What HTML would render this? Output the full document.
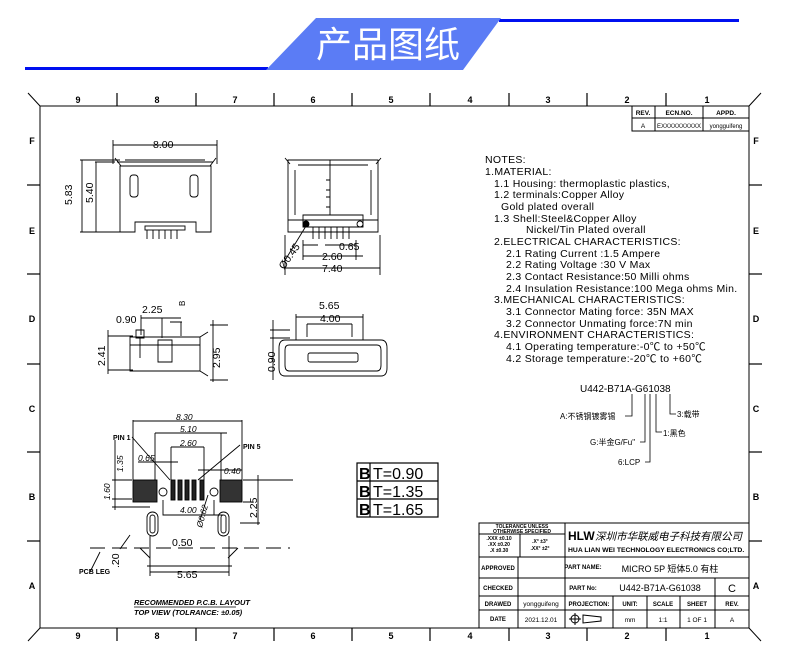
<!DOCTYPE html>
<html><head><meta charset="utf-8"><style>
html,body{margin:0;padding:0;background:#fff;}
svg{display:block;}
text{font-family:"Liberation Sans","Noto Sans CJK SC",sans-serif;fill:#000;}
</style></head><body>
<svg width="790" height="663" viewBox="0 0 790 663" xmlns="http://www.w3.org/2000/svg">
<!-- header -->
<rect x="25" y="67" width="243" height="3" fill="#0010f0"/>
<rect x="499" y="19" width="240" height="3" fill="#0010f0"/>
<polygon points="266,70 316,18 501,18 463,70" fill="#5b7cf5"/>
<text x="388" y="57" font-size="36" text-anchor="middle" style="fill:#fff" font-family="Noto Sans CJK SC,sans-serif">产品图纸</text>

<!-- frame -->
<g stroke="#000" fill="none" stroke-width="1">
<rect x="40" y="106" width="709" height="522"/>
<line x1="28" y1="93" x2="40" y2="106"/><line x1="761" y1="93" x2="749" y2="106"/>
<line x1="28" y1="641" x2="40" y2="628"/><line x1="761" y1="641" x2="749" y2="628"/>
<g stroke-width="1.2">
<line x1="117" y1="93" x2="117" y2="106"/><line x1="196" y1="93" x2="196" y2="106"/><line x1="274" y1="93" x2="274" y2="106"/><line x1="352" y1="93" x2="352" y2="106"/><line x1="430" y1="93" x2="430" y2="106"/><line x1="509" y1="93" x2="509" y2="106"/><line x1="587" y1="93" x2="587" y2="106"/><line x1="666" y1="93" x2="666" y2="106"/>
<line x1="117" y1="628" x2="117" y2="641"/><line x1="196" y1="628" x2="196" y2="641"/><line x1="274" y1="628" x2="274" y2="641"/><line x1="352" y1="628" x2="352" y2="641"/><line x1="430" y1="628" x2="430" y2="641"/><line x1="509" y1="628" x2="509" y2="641"/><line x1="587" y1="628" x2="587" y2="641"/><line x1="666" y1="628" x2="666" y2="641"/>
<line x1="27" y1="185" x2="40" y2="185"/><line x1="27" y1="274" x2="40" y2="274"/><line x1="27" y1="364" x2="40" y2="364"/><line x1="27" y1="452" x2="40" y2="452"/><line x1="27" y1="541" x2="40" y2="541"/>
<line x1="749" y1="185" x2="762" y2="185"/><line x1="749" y1="274" x2="762" y2="274"/><line x1="749" y1="364" x2="762" y2="364"/><line x1="749" y1="452" x2="762" y2="452"/><line x1="749" y1="541" x2="762" y2="541"/>
</g>
</g>
<g font-size="9" font-weight="bold" text-anchor="middle">
<text x="78" y="103">9</text><text x="157" y="103">8</text><text x="235" y="103">7</text><text x="313" y="103">6</text><text x="391" y="103">5</text><text x="470" y="103">4</text><text x="548" y="103">3</text><text x="627" y="103">2</text><text x="707" y="103">1</text>
<text x="78" y="639">9</text><text x="157" y="639">8</text><text x="235" y="639">7</text><text x="313" y="639">6</text><text x="391" y="639">5</text><text x="470" y="639">4</text><text x="548" y="639">3</text><text x="627" y="639">2</text><text x="707" y="639">1</text>
<text x="32" y="144">F</text><text x="32" y="234">E</text><text x="32" y="322">D</text><text x="32" y="412">C</text><text x="32" y="500">B</text><text x="32" y="589">A</text>
<text x="756" y="144">F</text><text x="756" y="234">E</text><text x="756" y="322">D</text><text x="756" y="412">C</text><text x="756" y="500">B</text><text x="756" y="589">A</text>
</g>

<!-- rev table -->
<g stroke="#000" fill="none"><rect x="632" y="106" width="117" height="25"/><line x1="632" y1="118" x2="749" y2="118"/><line x1="655" y1="106" x2="655" y2="131"/><line x1="703" y1="106" x2="703" y2="131"/></g>
<g font-size="6.5" text-anchor="middle"><text x="643" y="115" font-weight="bold">REV.</text><text x="679" y="115" font-weight="bold">ECN.NO.</text><text x="726" y="115" font-weight="bold">APPD.</text><text x="643" y="128">A</text><text x="679" y="128" font-size="6">EXXXXXXXXXX</text><text x="726" y="128" font-size="6">yongguifeng</text></g>

<!-- notes -->
<g font-size="10.5" letter-spacing="0.3">
<text x="485" y="163">NOTES:</text>
<text x="485" y="175">1.MATERIAL:</text>
<text x="494" y="187">1.1  Housing:  thermoplastic  plastics,</text>
<text x="494" y="198">1.2  terminals:Copper  Alloy</text>
<text x="501" y="210">Gold  plated  overall</text>
<text x="494" y="222">1.3  Shell:Steel&amp;Copper  Alloy</text>
<text x="526" y="233">Nickel/Tin  Plated  overall</text>
<text x="494" y="245">2.ELECTRICAL  CHARACTERISTICS:</text>
<text x="506" y="257">2.1  Rating  Current  :1.5  Ampere</text>
<text x="506" y="268">2.2  Rating  Voltage  :30  V  Max</text>
<text x="506" y="280">2.3  Contact  Resistance:50  Milli  ohms</text>
<text x="506" y="292">2.4  Insulation  Resistance:100  Mega  ohms  Min.</text>
<text x="494" y="303">3.MECHANICAL  CHARACTERISTICS:</text>
<text x="506" y="315">3.1  Connector  Mating  force:  35N  MAX</text>
<text x="506" y="327">3.2  Connector  Unmating  force:7N  min</text>
<text x="494" y="338">4.ENVIRONMENT  CHARACTERISTICS:</text>
<text x="506" y="350">4.1  Operating  temperature:-0℃  to  +50℃</text>
<text x="506" y="362">4.2  Storage  temperature:-20℃  to  +60℃</text>
</g>

<!-- part number -->
<text x="580" y="392" font-size="10">U442-B71A-G61038</text>
<g stroke="#000" fill="none" stroke-width="0.8">
<polyline points="632,394 632,416 625,416"/>
<polyline points="645,394 645,442 640,442"/>
<polyline points="650,394 650,462 645,462"/>
<polyline points="656,394 656,432 662,432"/>
<polyline points="670,394 670,414 676,414"/>
</g>
<g font-size="8" font-family="Noto Sans CJK SC,sans-serif">
<text x="560" y="419">A:不锈钢镀雾锡</text>
<text x="590" y="445">G:半金G/Fu"</text>
<text x="618" y="465">6:LCP</text>
<text x="663" y="436">1:黑色</text>
<text x="677" y="417">3:载带</text>
</g>

<!-- views -->
<g stroke="#000" fill="none" stroke-width="0.9">
<path d="M117,162 L213,162 M120,166 L211,166 L211,232 L196,232 L196,222 L135,222 L135,232 L120,232 Z"/>
<path d="M115,158 L121,166 M216,158 L210,166 M125,160 L205,160"/>
<rect x="130" y="175" width="8" height="22" rx="3"/><rect x="190" y="175" width="8" height="22" rx="3"/>
<rect x="145" y="226" width="40" height="4"/>
<path d="M147,230v9M153,230v9M159,230v9M165,230v9M171,230v9M177,230v9"/>
<path d="M113,140v24M217,140v24M113,145h104"/>
<path d="M80,160h40M80,232h40M95,162h20M95,232h20M82,160v72M96,162v70"/>
<path d="M288,160 L378,160 L378,232 L288,232 Z M298,165 h70 M295,170v45 M371,170v45 M288,220h90 M303,215 h60 v12 h-60 z"/>
<path d="M285,158l5,6M381,158l-5,6M330,160v55M326,180h4v10h-4M326,197h4v10h-4"/>
<circle cx="306" cy="224" r="3" fill="#000"/><circle cx="360" cy="224" r="3"/>
<path d="M313,227v12M319,227v12M325,227v12M331,227v12M337,227v12M343,227v12M349,227v12"/>
<path d="M285,235v40M380,235v40M285,268h95M303,256h60M303,245h15M325,245h30M303,240v20M356,240v20"/>
<path d="M284,262l22,-36"/>
<path d="M130,337 h70 v34 h-70 z M130,345 h70 M158,340 h14 v22 h-14 z M140,338 v20 M136,330 h8 v8 h-8 z M200,337 l8,-5 M200,371 l8,5"/>
<path d="M108,336 h25 M108,370 h25 M108,330 v44 M210,325 h18 M210,380 h18 M213,320 v62 M141,315v20 M141,318h40 M162,318v20 M170,322h12 M181,322v14"/>
<path d="M285,340 h96 q6,0 6,8 v20 q0,8 -6,8 h-96 q-6,0 -6,-8 v-20 q0,-8 6,-8 z"/>
<path d="M289,345 h88 q4,0 4,5 v15 q0,6 -4,6 h-88 q-4,0 -4,-6 v-15 q0,-5 4,-5 z"/>
<rect x="308" y="353" width="50" height="9" rx="2"/>
<path d="M296,314v26M363,314v26M296,317h67M307,324h45M307,324v13M352,324v13"/>
<path d="M270,330h20M270,338h20M273,320v60"/>
<rect x="133" y="480" width="24" height="22" fill="#333"/><rect x="220" y="480" width="22" height="22" fill="#333"/>
<rect x="171" y="480" width="4" height="20" fill="#222"/><rect x="178" y="480" width="4" height="20" fill="#222"/><rect x="185" y="480" width="4" height="20" fill="#222"/><rect x="192" y="480" width="4" height="20" fill="#222"/><rect x="200" y="480" width="4" height="20" fill="#222"/>
<circle cx="163" cy="492" r="4"/><circle cx="214" cy="492" r="4"/>
<rect x="147" y="512" width="11" height="24" rx="5.5"/><rect x="218" y="512" width="11" height="24" rx="5.5"/>
<rect x="150" y="515" width="5" height="18" rx="2.5"/><rect x="221" y="515" width="5" height="18" rx="2.5"/>
<path d="M133,420v60M242,420v60M133,421h109M155,433h72M155,433v47M221,433v47M171,447h33M171,447v33M204,447v33M138,462h40M198,470h44" />
<path d="M112,480h20M112,499h20M112,507h38M115,440v70M243,480h50M243,502h10M258,475v50M240,523h20"/>
<path d="M163,500v15h60M214,500v15"/>
<path d="M170,480l-38,-43M198,480l42,-35M208,495l-8,25"/>
<path d="M90,548h200" stroke-dasharray="15,7"/>
<path d="M150,536v40M229,536v40M150,572h79M140,548l10,10 M238,548l-10,10M147,566h85"/>
<path d="M130,535l-10,14M100,552l-10,20"/>
</g>
<g font-size="10.5">
<text x="153" y="148">8.00</text>
<text x="72" y="205" transform="rotate(-90 72 205)">5.83</text>
<text x="93" y="203" transform="rotate(-90 93 203)">5.40</text>
<text x="339" y="250">0.65</text>
<text x="322" y="260">2.60</text>
<text x="322" y="272">7.40</text>
<text x="284" y="270" transform="rotate(-55 284 270)">Ø0.45</text>
<text x="142" y="313">2.25</text>
<text x="116" y="323">0.90</text>
<text x="185" y="306" font-size="8" transform="rotate(-90 185 306)">B</text>
<text x="105" y="366" transform="rotate(-90 105 366)">2.41</text>
<text x="220" y="368" transform="rotate(-90 220 368)">2.95</text>
<text x="319" y="309">5.65</text>
<text x="320" y="322">4.00</text>
<text x="275" y="372" transform="rotate(-90 275 372)">0.90</text>
</g>
<g font-size="8.5" font-style="italic">
<text x="176" y="420">8.30</text><text x="180" y="432">5.10</text><text x="180" y="446">2.60</text>
<text x="138" y="461">0.65</text><text x="224" y="474">0.40</text>
<text x="180" y="513">4.00</text>
<text x="202" y="528" transform="rotate(-75 202 528)">Ø0.62</text>
<text x="123" y="472" transform="rotate(-90 123 472)">1.35</text>
<text x="110" y="500" transform="rotate(-90 110 500)">1.60</text>
</g>
<g font-size="10.5">
<text x="257" y="518" transform="rotate(-90 257 518)">2.25</text>
<text x="172" y="546">0.50</text>
<text x="177" y="578">5.65</text>
<text x="119" y="568" transform="rotate(-90 119 568)">.20</text>
</g>
<g font-size="7" font-weight="bold">
<text x="113" y="440">PIN 1</text><text x="243" y="449">PIN 5</text><text x="79" y="574">PCB LEG</text>
</g>
<g font-size="7.5" font-style="italic" font-weight="bold">
<text x="134" y="605">RECOMMENDED P.C.B. LAYOUT</text>
<text x="134" y="615">TOP VIEW (TOLRANCE: ±0.05)</text>
</g>
<line x1="134" y1="607" x2="236" y2="607" stroke="#000" stroke-width="0.8"/>

<!-- B table -->
<g stroke="#000" fill="none" stroke-width="1.2"><rect x="357" y="463" width="81" height="54"/><line x1="357" y1="481" x2="438" y2="481"/><line x1="357" y1="499" x2="438" y2="499"/><line x1="370" y1="463" x2="370" y2="517"/></g>
<g font-size="16"><text x="359" y="479" font-family="Liberation Serif,serif" font-weight="bold">B</text><text x="359" y="497" font-family="Liberation Serif,serif" font-weight="bold">B</text><text x="359" y="515" font-family="Liberation Serif,serif" font-weight="bold">B</text>
<text x="373" y="479">T=0.90</text><text x="373" y="497">T=1.35</text><text x="373" y="515">T=1.65</text></g>

<!-- title block -->
<g stroke="#000" fill="none" stroke-width="1">
<rect x="479" y="523" width="270" height="105"/>
<line x1="479" y1="557" x2="749" y2="557"/><line x1="479" y1="578" x2="749" y2="578"/><line x1="479" y1="596" x2="749" y2="596"/><line x1="479" y1="610" x2="749" y2="610"/>
<line x1="565" y1="523" x2="565" y2="628"/><line x1="518" y1="557" x2="518" y2="628"/>
<line x1="479" y1="534" x2="565" y2="534"/><line x1="520" y1="534" x2="520" y2="557"/>
<line x1="613" y1="596" x2="613" y2="628"/><line x1="647" y1="596" x2="647" y2="628"/><line x1="680" y1="596" x2="680" y2="628"/><line x1="715" y1="578" x2="715" y2="628"/>
</g>
<g font-size="6" font-weight="bold" text-anchor="middle">
<text x="522" y="528" font-size="5">TOLERANCE UNLESS</text><text x="522" y="533" font-size="5">OTHERWISE SPECIFIED</text>
<text x="499" y="540" font-size="5">.XXX ±0.10</text><text x="499" y="546" font-size="5">.XX ±0.20</text><text x="499" y="552" font-size="5">.X ±0.30</text>
<text x="540" y="543" font-size="5">.X° ±3°</text><text x="540" y="550" font-size="5">.XX° ±2°</text>
<text x="498" y="570">APPROVED</text><text x="498" y="590">CHECKED</text><text x="498" y="606">DRAWED</text><text x="498" y="621">DATE</text>
<text x="583" y="569">PART NAME:</text><text x="583" y="590">PART No:</text><text x="589" y="606">PROJECTION:</text>
<text x="630" y="606">UNIT:</text><text x="663" y="606">SCALE</text><text x="697" y="606">SHEET</text><text x="732" y="606">REV.</text>
</g>
<g font-size="6.5" text-anchor="middle">
<text x="541" y="606">yongguifeng</text><text x="541" y="622">2021.12.01</text>
<text x="630" y="622">mm</text><text x="663" y="622">1:1</text><text x="697" y="622">1 OF 1</text><text x="732" y="622">A</text>
</g>
<text x="568" y="540" font-size="12" font-weight="bold">HLW</text>
<text x="595" y="540" font-size="10.5" font-style="italic" font-family="Noto Serif CJK SC,serif">深圳市华联威电子科技有限公司</text>
<text x="568" y="552" font-size="6.8" font-weight="bold">HUA LIAN WEI TECHNOLOGY ELECTRONICS CO;LTD.</text>
<text x="670" y="572" font-size="9" text-anchor="middle" font-family="Liberation Mono,Noto Sans CJK SC,monospace">MICRO 5P 短体5.0 有柱</text>
<text x="660" y="591" font-size="9" text-anchor="middle" font-family="Liberation Mono,monospace">U442-B71A-G61038</text>
<text x="732" y="592" font-size="11" text-anchor="middle">C</text>
<g stroke="#000" fill="none"><circle cx="575" cy="619" r="4"/><path d="M569,619h12M575,613v12M583,615l18,2v4l-18,2z"/></g>
</svg>
</body></html>
